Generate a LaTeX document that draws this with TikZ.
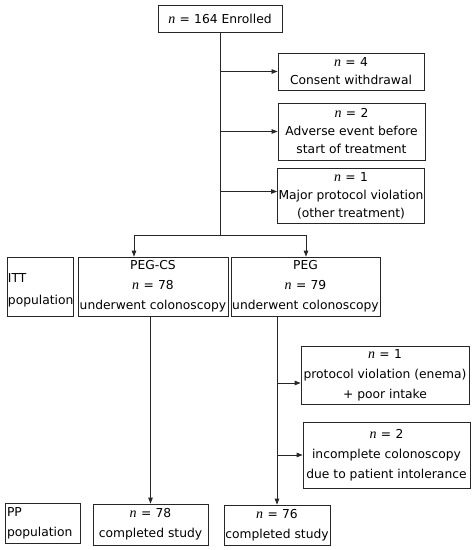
\documentclass[tikz,border=0pt]{standalone}
\usepackage{fontspec}
\setmainfont{DejaVu Sans}
\newfontfamily\nfont{Liberation Serif}
\usetikzlibrary{arrows.meta,calc}
\tikzset{
  box/.style={draw=black!85, line width=0.8pt, inner sep=1pt, align=center, font=\fontsize{12.3}{18}\selectfont},
  boxb/.style={box, font=\fontsize{12.3}{20}\selectfont},
  side/.style={draw=black!85, line width=0.8pt, inner sep=2pt, align=left, font=\fontsize{12.3}{22}\selectfont},
  conn/.style={draw=black!85, line width=0.8pt},
  arr/.style={conn, -{Triangle[length=6pt,width=4.5pt]}},
}
\newcommand{\nn}{{\nfont\itshape\fontsize{14}{14}\selectfont n}}
\newcommand{\eq}{\hspace{0.35em}=\hspace{0.35em}}
\begin{document}
\begin{tikzpicture}[x=1pt,y=-1pt]
\useasboundingbox (0,0) rectangle (472,550);
% boxes
\node[box, minimum width=124pt, minimum height=27pt] (enr) at (220,18.5) {\nn\eq 164 Enrolled};
\node[box, minimum width=146pt, minimum height=37pt] (cw) at (351,71.5) {\nn\eq 4\\Consent withdrawal};
\node[box, minimum width=147pt, minimum height=57pt] (ae) at (351.5,131.5) {\nn\eq 2\\Adverse event before\\start of treatment};
\node[box, minimum width=146pt, minimum height=55pt] (mp) at (351,195.5) {\nn\eq 1\\Major protocol violation\\(other treatment)};
\node[side, minimum width=66pt, minimum height=59pt, text width=64pt, inner sep=1pt] (itt) at (40,286.5) {\rule{0pt}{17pt}ITT\\population};
\node[boxb, minimum width=150pt, minimum height=59pt] (pegcs) at (153,286.5) {PEG-CS\\\nn\eq 78\\underwent colonoscopy};
\node[boxb, minimum width=149pt, minimum height=59pt] (peg) at (305.5,286.5) {PEG\\\nn\eq 79\\underwent colonoscopy};
\node[boxb, minimum width=168pt, minimum height=58pt] (pv) at (385,375) {\nn\eq 1\\protocol violation (enema)\\+ poor intake};
\node[boxb, minimum width=167pt, minimum height=66pt] (ic) at (386.5,455) {\nn\eq 2\\incomplete colonoscopy\\due to patient intolerance};
\node[side, minimum width=75pt, minimum height=40pt, text width=71pt, inner sep=1pt, font=\fontsize{12.3}{20}\selectfont] (pp) at (42.5,523) {PP\\population};
\node[boxb, minimum width=115pt, minimum height=41pt] (c78) at (150.5,524.5) {\nn\eq 78\\completed study};
\node[boxb, minimum width=106pt, minimum height=40pt] (c76) at (277,525) {\nn\eq 76\\completed study};
% connectors
\coordinate (j) at (220,235);
\coordinate (ja) at (134,235);
\coordinate (jb) at (306,235);
\draw[conn] (enr.south) -- (j);
\draw[arr] (enr.south |- cw.west) -- (cw.west);
\draw[arr] (enr.south |- ae.west) -- (ae.west);
\coordinate (mpin) at ([yshift=4pt]mp.west);
\draw[arr] (enr.south |- mpin) -- (mpin);
\draw[conn] (ja) -- (jb);
\draw[arr] (ja) -- (ja |- pegcs.north);
\draw[arr] (jb) -- (jb |- peg.north);
\draw[arr] (c78.north |- pegcs.south) -- (c78.north);
\draw[arr] (c76.north |- peg.south) -- (c76.north);
\coordinate (pvin) at ([yshift=-8pt]pv.west);
\draw[arr] (c76.north |- pvin) -- (pvin);
\draw[arr] (c76.north |- ic.west) -- (ic.west);
\end{tikzpicture}
\end{document}
